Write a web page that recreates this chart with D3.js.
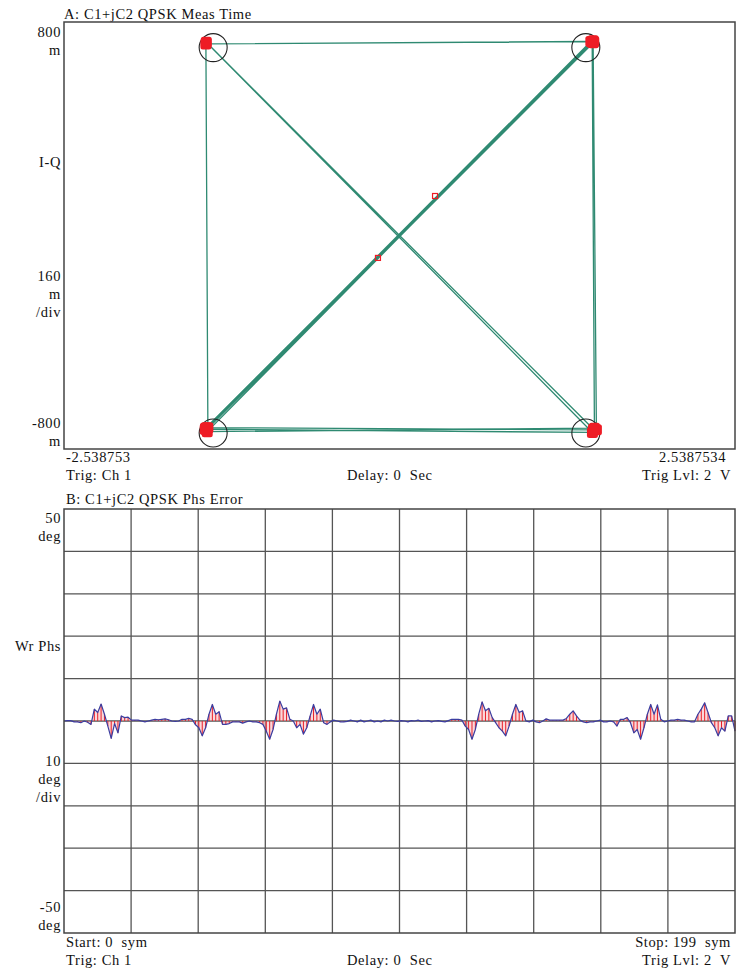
<!DOCTYPE html>
<html>
<head>
<meta charset="utf-8">
<script src="https://cdn.jsdelivr.net/npm/d3@7"></script>
<style>
  body { margin: 0; background: #fff; }
  svg text { font-family: "Liberation Serif", "DejaVu Serif", serif; font-size: 14.5px; letter-spacing: 0.6px; fill: #111; white-space: pre; }
</style>
</head>
<body>
<svg width="737" height="968"></svg>
<script>
// ---- data: constellation (panel A) ----
var iqRange = [-2.538753, 2.5387534];
var qRange = [-0.8, 0.8];

// trace through symbol states, in order (I, Q)
var traceI = [-1.465, 1.462, -1.468, 1.466, -1.460, 1.470, -1.463, 1.458, 1.475, -1.455, 1.465, 1.490, -1.450, -1.465, 1.448, -1.470, 1.460, -1.462, 1.468];
var traceQ = [-0.725, 0.728, -0.722, 0.722, -0.728, 0.726, -0.720, 0.724, -0.722, -0.735, 0.730, -0.728, -0.720, 0.718, 0.727, -0.726, -0.738, 0.724, -0.726];

// ideal symbol positions (circles)
var idealI = [-1.41, 1.41, -1.41, 1.41];
var idealQ = [0.704, 0.704, -0.740, -0.740];

// stray samples along the diagonal
var strayI = [0.269, -0.163];
var strayQ = [0.148, -0.084];

// ---- data: phase error (panel B) ----
var phsErr = [
  0, 0.1, 0.1, -0.2, -0.2, -0.4, 0, -0.3, -0.8, 2.8,
  2.0, 4.0, 1.6, -1.2, -4.1, -0.6, -2.8, 1.2, 0.8, 0.9,
  0.2, 0.2, 0.2, 0, -0.2, 0, 0.2, 0.4, 0.3, 0.4,
  0.5, 0.3, 0, -0.1, 0, 0.4, 0.4, 0.6, 0.4, -0.9,
  -1.6, -3.5, -1.6, 1.6, 3.9, 1.6, 2.2, -0.8, -0.8, -0.6,
  -0.2, -0.2, -0.2, -0.5, -0.2, 0, -0.2, -0.2, -0.4, -0.8,
  -2.4, -4.3, -2.0, 1.6, 4.7, 2.8, 3.1, 0.4, 0, -1.6,
  -0.8, -3.1, -1.6, 1.2, 3.9, 1.6, 2.8, -0.4, -0.8, -0.2,
  0.2, 0, -0.2, -0.2, -0.1, 0.2, 0, -0.2, 0.2, -0.2,
  0, 0.2, -0.2, 0, -0.2, 0.2, 0, 0.2, 0, -0.1,
  0.1, 0, -0.2, 0.1, 0, 0.2, -0.1, 0, 0.1, -0.2,
  0, 0.1, -0.1, -0.2, 0.1, 0.4, 0.4, 0.4, 0.2, -1.2,
  -2.0, -4.3, -2.0, 1.6, 4.5, 2.4, 3.0, 0.8, -0.4, -1.6,
  -2.4, -3.5, -1.2, 1.6, 3.9, 2.0, 2.4, 0, -0.2, 0.2,
  -0.2, -0.4, 0, 0.5, 0.2, 0.2, 0.2, 0.2, 0.2, 0.6,
  1.6, 2.4, 1.2, 0.2, -0.2, -0.4, -0.2, -0.2, 0, 0.2,
  -0.2, -0.2, 0, -0.2, -1.2, 0.4, 0.4, 0.8, -0.4, -2.8,
  -2.0, -4.3, -1.6, 1.6, 3.9, 1.6, 3.8, 0.4, -0.2, 0,
  0.2, 0.2, 0.4, 0.2, 0.2, 0, -0.2, -0.2, 1.6, 2.8,
  4.3, 2.0, -0.4, -1.6, -3.5, -1.6, -2.4, 1.2, 1.2, -2.4
];
var symRange = [0, 199];
var degRange = [-50, 50];

var svg = d3.select("svg");

var left = 64, right = 735;
var aTop = 22, aBottom = 449;
var bTop = 509, bBottom = 933;

var xIQ = d3.scaleLinear().domain(iqRange).range([left, right]);
var yIQ = d3.scaleLinear().domain(qRange).range([aBottom, aTop]);

var xSym = d3.scaleLinear().domain(symRange).range([left, right]);
var yDeg = d3.scaleLinear().domain(degRange).range([bBottom, bTop]);
var xDiv = d3.scaleLinear().domain([0, 10]).range([left, right]);

function label(x, y, txt, anchor) {
    svg.append("text")
        .attr("x", x)
        .attr("y", y)
        .attr("text-anchor", anchor || "start")
        .text(txt);
}

// ---------- panel A ----------
label(left, 19, "A: C1+jC2 QPSK Meas Time");

var gA = svg.append("g");

var tracePts = traceI.map(function (d, i) { return [d, traceQ[i]]; });
var line = d3.line()
    .x(function (d) { return xIQ(d[0]); })
    .y(function (d) { return yIQ(d[1]); });

gA.append("path")
    .attr("d", line(tracePts))
    .attr("fill", "none")
    .attr("stroke", "#2f8a72")
    .attr("stroke-width", 1.3)
    .attr("stroke-linejoin", "round");

gA.selectAll("circle.ideal")
    .data(idealI)
    .enter().append("circle")
    .attr("class", "ideal")
    .attr("cx", function (d) { return xIQ(d); })
    .attr("cy", function (d, i) { return yIQ(idealQ[i]); })
    .attr("r", 14)
    .attr("fill", "none")
    .attr("stroke", "#222")
    .attr("stroke-width", 1.1);

gA.selectAll("rect.sym")
    .data(tracePts)
    .enter().append("rect")
    .attr("class", "sym")
    .attr("x", function (d) { return xIQ(d[0]) - 5.5; })
    .attr("y", function (d) { return yIQ(d[1]) - 5.5; })
    .attr("width", 11)
    .attr("height", 11)
    .attr("rx", 2.5)
    .attr("fill", "#ee1c25");

gA.selectAll("rect.stray")
    .data(strayI)
    .enter().append("rect")
    .attr("class", "stray")
    .attr("x", function (d) { return xIQ(d) - 2.5; })
    .attr("y", function (d, i) { return yIQ(strayQ[i]) - 2.5; })
    .attr("width", 5)
    .attr("height", 5)
    .attr("fill", "none")
    .attr("stroke", "#ee1c25")
    .attr("stroke-width", 1.2);

gA.append("rect")
    .attr("x", left)
    .attr("y", aTop)
    .attr("width", right - left)
    .attr("height", aBottom - aTop)
    .attr("fill", "none")
    .attr("stroke", "#444")
    .attr("stroke-width", 1.5);

label(61, 37, "800", "end");
label(61, 55, "m", "end");
label(61, 167, "I-Q", "end");
label(61, 281, "160", "end");
label(61, 299, "m", "end");
label(61, 317, "/div", "end");
label(61, 428, "-800", "end");
label(61, 446, "m", "end");

label(left + 2, 462, String(iqRange[0]));
label(726, 462, String(iqRange[1]), "end");
label(left + 2, 480, "Trig: Ch 1");
label(347, 480, "Delay: 0  Sec");
label(731, 480, "Trig Lvl: 2  V", "end");

// ---------- panel B ----------
label(left + 2, 504, "B: C1+jC2 QPSK Phs Error");

var gB = svg.append("g");

gB.selectAll("line.vgrid")
    .data(d3.range(1, 10))
    .enter().append("line")
    .attr("x1", function (d) { return xDiv(d); })
    .attr("x2", function (d) { return xDiv(d); })
    .attr("y1", bTop)
    .attr("y2", bBottom)
    .attr("stroke", "#555")
    .attr("stroke-width", 1.3);

gB.selectAll("line.hgrid")
    .data(yDeg.ticks(10).filter(function (d) { return d > degRange[0] && d < degRange[1]; }))
    .enter().append("line")
    .attr("x1", left)
    .attr("x2", right)
    .attr("y1", function (d) { return yDeg(d); })
    .attr("y2", function (d) { return yDeg(d); })
    .attr("stroke", "#555")
    .attr("stroke-width", 1.3);

var area = d3.area()
    .x(function (d, i) { return xSym(i); })
    .y0(yDeg(0))
    .y1(function (d) { return yDeg(d); });

gB.append("path")
    .attr("d", area(phsErr))
    .attr("fill", "#f4a9ad")
    .attr("opacity", 0.45);

gB.selectAll("line.stem")
    .data(phsErr)
    .enter().append("line")
    .attr("x1", function (d, i) { return xSym(i); })
    .attr("x2", function (d, i) { return xSym(i); })
    .attr("y1", yDeg(0))
    .attr("y2", function (d) { return yDeg(d); })
    .attr("stroke", "#e8202a")
    .attr("stroke-width", 1);

var phsLine = d3.line()
    .x(function (d, i) { return xSym(i); })
    .y(function (d) { return yDeg(d); });

gB.append("path")
    .attr("d", phsLine(phsErr))
    .attr("fill", "none")
    .attr("stroke", "#3b3da0")
    .attr("stroke-width", 1.2)
    .attr("stroke-linejoin", "round");

gB.append("rect")
    .attr("x", left)
    .attr("y", bTop)
    .attr("width", right - left)
    .attr("height", bBottom - bTop)
    .attr("fill", "none")
    .attr("stroke", "#444")
    .attr("stroke-width", 1.5);

label(61, 523, "50", "end");
label(61, 541, "deg", "end");
label(61, 651, "Wr Phs", "end");
label(61, 766, "10", "end");
label(61, 784, "deg", "end");
label(61, 802, "/div", "end");
label(61, 912, "-50", "end");
label(61, 930, "deg", "end");

label(left + 2, 947, "Start: 0  sym");
label(731, 947, "Stop: 199  sym", "end");
label(left + 2, 965, "Trig: Ch 1");
label(347, 965, "Delay: 0  Sec");
label(731, 965, "Trig Lvl: 2  V", "end");
</script>
</body>
</html>
